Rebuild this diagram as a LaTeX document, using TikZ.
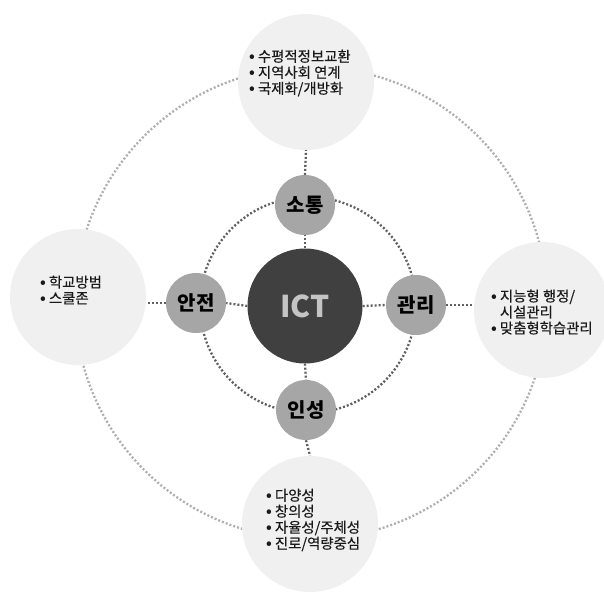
\documentclass[tikz,border=0pt]{standalone}
\usepackage{fontspec}
\setmainfont{Noto Sans CJK KR}
\newfontfamily\bulletfont[FakeBold=0.35]{Noto Sans CJK KR}
\newfontfamily\dotfont{Noto Sans CJK KR}
\definecolor{bigfill}{HTML}{F0F0F0}
\definecolor{smallfill}{HTML}{A6A6A6}
\definecolor{ictfill}{HTML}{404040}
\definecolor{icttext}{HTML}{C4C4C4}
\definecolor{darkdot}{HTML}{606060}
\definecolor{lightdot}{HTML}{AFAFAF}
\definecolor{txt}{HTML}{1A1A1A}
\tikzset{
  bigc/.style={circle, fill=bigfill, minimum size=136pt, inner sep=0pt},
  smallc/.style={circle, fill=smallfill, minimum size=60pt, inner sep=0pt,
    font=\fontsize{20}{22}\selectfont\bfseries, text=black},
  ictc/.style={circle, fill=ictfill, minimum size=115pt, inner sep=0pt,
    font=\fontsize{30}{32}\selectfont\bfseries, text=icttext},
  darkdots/.style={draw=darkdot, line width=2.3pt, dash pattern=on 2pt off 2pt},
  lightdots/.style={draw=lightdot, line width=2.3pt, dash pattern=on 2pt off 2pt},
  bullets/.style={anchor=west, inner sep=0pt, align=left, text=txt,
    font=\bulletfont\fontsize{14.4}{16}\selectfont}
}
\newcommand{\bl}{{\dotfont\bfseries •}\hspace{3pt}}
\begin{document}
\begin{tikzpicture}[x=1pt,y=-1pt]
\useasboundingbox (0,0) rectangle (604,594);
% outer ring
\draw[lightdots] (311,303) circle (236);
% inner ring
\draw[darkdots] (308,305) circle (108);
% big circles
\node[bigc] (top) at (306,82) {};
\node[bigc] (left) at (78,297) {};
\node[bigc] (right) at (542,310) {};
\node[bigc] (bottom) at (310,524) {};
% small circles
\node[smallc] (sotong) at (305,205) {소통};
\node[smallc] (anjeon) at (196,303) {안전};
\node[smallc] (gwanri) at (416,305) {관리};
\node[smallc] (inseong) at (306,410) {인성};
% center
\node[ictc] (ict) at (305,306) {ICT};
% connectors
\draw[darkdots] (ict.north) -- (sotong.south);
\draw[darkdots] (ict.south) -- (inseong.north);
\draw[darkdots] (ict.west) -- (anjeon.east);
\draw[darkdots] (ict.east) -- (gwanri.west);
\draw[darkdots] (sotong.north) -- (top.south);
\draw[darkdots] (inseong.south) -- (bottom.north);
\draw[darkdots] (anjeon.west) -- (anjeon.west -| left.east);
\draw[darkdots] (gwanri.east) -- (gwanri.east -| right.west);
% texts
\node[bullets] (ttop) at (249,73) {\bl 수평적정보교환\\ \bl 지역사회 연계\\ \bl 국제화/개방화};
\node[bullets] (tleft) at (40,290) {\bl 학교방범\\ \bl 스쿨존};
\node[bullets] (tright) at (491,312) {\bl 지능형 행정/\\ \hphantom{\bl}시설관리\\ \bl 맞춤형학습관리};
\node[bullets] (tbottom) at (266,520) {\bl 다양성\\ \bl 창의성\\ \bl 자율성/주체성\\ \bl 진로/역량중심};
\end{tikzpicture}
\end{document}
